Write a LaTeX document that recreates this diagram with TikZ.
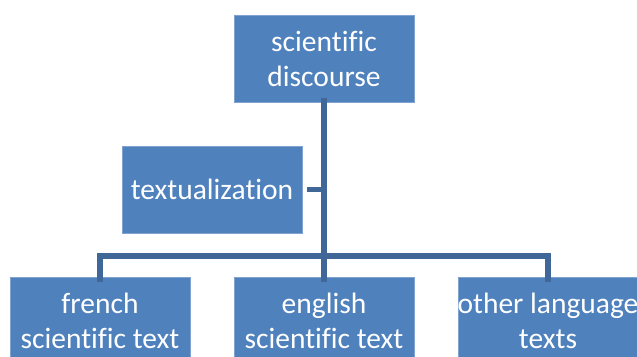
\documentclass[tikz,border=0pt]{standalone}
\usepackage{fontspec}
\setmainfont[Ligatures=NoCommon]{Carlito}
\definecolor{boxfill}{HTML}{4F81BD}
\definecolor{boxedge}{HTML}{7FA2D0}
\definecolor{linecol}{HTML}{3F6899}
\begin{document}
\begin{tikzpicture}[x=1pt,y=-1pt,
  box/.style={rectangle,fill=boxfill,draw=boxedge,line width=0.6pt,minimum width=180pt,minimum height=87pt,inner sep=0pt},
  lbl/.style={text=white,align=center,font=\fontsize{29.5}{35}\selectfont,inner sep=0pt},
  conn/.style={draw=linecol,line width=5.5pt,line join=miter,line cap=butt}]
\useasboundingbox (0,0) rectangle (637,356);
\clip (0,0) rectangle (637,356);
\node[box] (top) at (324,58.5) {};
\node[lbl] (topt) at (top) {scientific\\discourse};
\node[box] (tex) at (212,189.5) {};
\node[lbl] (text) at (tex) {textualization};
\node[box] (fr) at (100,320.5) {};
\node[lbl] (frt) at (fr) {french\\scientific text};
\node[box] (en) at (324,320.5) {};
\node[lbl] (ent) at (en) {english\\scientific text};
\node[box] (ot) at (548,320.5) {};
\node[lbl] (ott) at (ot) {other language\\texts};
\coordinate (bar) at (324,256);
\draw[conn] ([yshift=4.5pt]top.south) -- ([yshift=-5pt]en.north);
\draw[conn] ([yshift=-5pt]fr.north) |- (bar) -| ([yshift=-5pt]ot.north);
\draw[conn] ([xshift=5pt]tex.east) -- (tex.east -| top.south);
\end{tikzpicture}
\end{document}
